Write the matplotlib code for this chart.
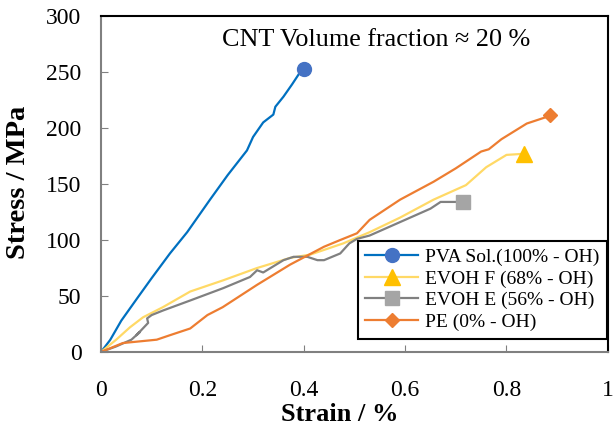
import matplotlib.pyplot as plt
import numpy as np

plt.rcParams['font.family'] = ['Liberation Serif', 'DejaVu Serif']

# strain (%) / stress (MPa)
pva_x = [0, 0.018, 0.04, 0.073, 0.1, 0.136, 0.17, 0.215, 0.25, 0.288, 0.30, 0.32, 0.34, 0.344, 0.36, 0.377, 0.393, 0.40]
pva_y = [0, 10.7, 28, 49, 66, 88, 107, 136, 158, 180, 192, 205, 212, 219, 228, 239, 250, 253]

evohf_x = [0, 0.03, 0.057, 0.083, 0.122, 0.176, 0.241, 0.308, 0.373, 0.413, 0.478, 0.53, 0.59, 0.656, 0.72, 0.76, 0.80, 0.835]
evohf_y = [0, 11, 22, 31, 40, 54, 64, 75, 84, 87, 97, 107, 120, 136, 149, 165, 176, 177]

evohe_x = [0, 0.03, 0.06, 0.077, 0.07, 0.093, 0.091, 0.10, 0.122, 0.176, 0.241, 0.294, 0.308, 0.32, 0.36, 0.38, 0.407, 0.427, 0.44,
           0.472, 0.49, 0.505, 0.53, 0.56, 0.60, 0.65, 0.67, 0.715]
evohe_y = [0, 5, 11, 18, 15, 26, 30, 33, 37, 46, 57, 67, 73, 71, 82, 85, 85, 82, 82,
           88, 97, 101, 104, 110, 118, 128, 134, 134]

pe_x = [0, 0.043, 0.11, 0.136, 0.176, 0.21, 0.24, 0.308, 0.373, 0.44, 0.472, 0.505, 0.53, 0.59, 0.656, 0.70, 0.75, 0.765, 0.79, 0.84, 0.88, 0.885]
pe_y = [0, 8, 11, 15, 21, 33, 40, 60, 78, 94, 100, 106, 118, 136, 152, 164, 179, 181, 190, 204, 210, 212]

labels = ['PVA Sol.(100% - OH)', 'EVOH F (68% - OH)', 'EVOH E (56% - OH)', 'PE (0% - OH)']
x_ticks = [0, 0.2, 0.4, 0.6, 0.8, 1]
y_ticks = [0, 50, 100, 150, 200, 250, 300]

fig = plt.figure(figsize=(6.14, 4.26), dpi=100)
ax = fig.add_axes([0.1645, 0.1737, 0.8255, 0.7887])

ax.plot(pva_x, pva_y, c='#0070C0', lw=1.6, marker='o', ms=10, mfc='#4472C4', mec='#4472C4', markevery=[-1], label=labels[0])
ax.plot(evohf_x, evohf_y, c='#FFD966', lw=1.6, marker='^', ms=11, mfc='#FFC000', mec='#FFC000', markevery=[-1], label=labels[1])
ax.plot(evohe_x, evohe_y, c='#808080', lw=1.6, marker='s', ms=10, mfc='#A5A5A5', mec='#A5A5A5', markevery=[-1], label=labels[2])
ax.plot(pe_x, pe_y, c='#ED7D31', lw=1.6, marker='D', ms=7, mfc='#ED7D31', mec='#ED7D31', markevery=[-1], label=labels[3])

ax.set_xlim(0, 1)
ax.set_ylim(0, 300)
ax.set_xticks(x_ticks)
ax.set_xticklabels(['0', '0.2', '0.4', '0.6', '0.8', '1'])
ax.set_yticks(y_ticks)
ax.tick_params(direction='in', length=5, color='#808080', labelsize=17)
ax.tick_params(axis='x', pad=20)
ax.tick_params(axis='y', pad=14)

for s in ['left', 'bottom']:
    ax.spines[s].set_color('#808080')
    ax.spines[s].set_linewidth(1.5)
for s in ['top', 'right']:
    ax.spines[s].set_color('black')
    ax.spines[s].set_linewidth(1.5)

ax.set_xlabel('Strain / %', fontsize=19, fontweight='bold')
ax.xaxis.set_label_coords(0.471, -0.152)
ax.set_ylabel('Stress / MPa', fontsize=20.5, fontweight='bold')
ax.yaxis.set_label_coords(-0.138, 0.506)

ax.text(0.543, 0.93, 'CNT Volume fraction ≈ 20 %', transform=ax.transAxes, ha='center', va='center', fontsize=18.8)

leg = ax.legend(loc='lower right', bbox_to_anchor=(0.998, 0.04), fontsize=14, fancybox=False, framealpha=1,
                edgecolor='black', handlelength=2.7, handletextpad=0.35, borderpad=0.4, labelspacing=0.2, borderaxespad=0.0)
leg.get_frame().set_linewidth(1.5)

fig.savefig('out.png', dpi=100)
